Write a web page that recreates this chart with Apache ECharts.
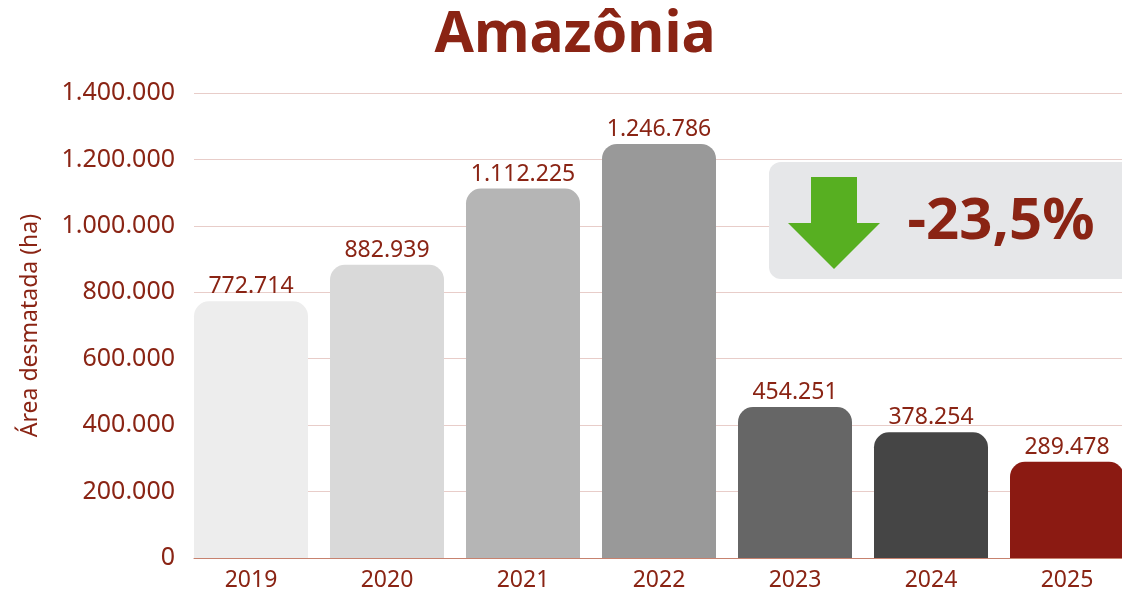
<!DOCTYPE html>
<html>
<head>
<meta charset="utf-8">
<script src="https://cdn.jsdelivr.net/npm/echarts@6/dist/echarts.min.js"></script>
<style>
  html, body { margin: 0; padding: 0; background: #fff; }
  #chart { width: 1122px; height: 595px; }
</style>
</head>
<body>
<div id="chart"></div>
<script>
// Desmatamento na Amazônia por ano
const years = ['2019', '2020', '2021', '2022', '2023', '2024', '2025'];
const areaHa = [772714, 882939, 1112225, 1246786, 454251, 378254, 289478];
const barColors = ['#EDEDED', '#D9D9D9', '#B5B5B5', '#999999', '#666666', '#454545', '#8B1A12'];
const yMax = 1400000;
const yStep = 200000;
const variation = '-23,5%';

const red = '#8A2414';
const font = '"Noto Sans", sans-serif';
const fmt = v => String(v).replace(/\B(?=(\d{3})+(?!\d))/g, '.');

const chart = echarts.init(document.getElementById('chart'));
const option = {
  animation: false,
  title: {
    text: 'Amazônia',
    left: 570,
    textAlign: 'center',
    top: 2,
    textStyle: { color: red, fontSize: 57, fontWeight: 'bold', fontFamily: font }
  },
  grid: [
    // barras
    { left: 183, top: 93, width: 952, bottom: 37, outerBoundsMode: 'none' },
    // linhas de grade e rótulos
    { left: 194, top: 93, right: 0, bottom: 37, outerBoundsMode: 'none' }
  ],
  xAxis: [
    {
      type: 'category', gridIndex: 0, data: years,
      axisTick: { show: false },
      axisLine: { show: false },
      axisLabel: { color: red, fontSize: 23, fontFamily: font, margin: 11 }
    },
    {
      type: 'category', gridIndex: 1, data: years, show: true,
      axisTick: { show: false }, axisLabel: { show: false },
      axisLine: { show: true, lineStyle: { color: '#C7826F', width: 1 } }
    }
  ],
  yAxis: [
    {
      type: 'value', gridIndex: 0, min: 0, max: yMax, interval: yStep,
      show: false
    },
    {
      type: 'value', gridIndex: 1, min: 0, max: yMax, interval: yStep,
      name: 'Área desmatada (ha)',
      nameLocation: 'middle',
      nameGap: 152,
      nameTextStyle: { color: red, fontSize: 23, fontFamily: font },
      axisLine: { show: false },
      axisTick: { show: false },
      axisLabel: { color: red, fontSize: 25, fontFamily: font, margin: 19, formatter: fmt },
      splitLine: { lineStyle: { color: '#E8CDC9', width: 1 } }
    }
  ],
  graphic: [
    {
      type: 'rect', z: 100,
      shape: { x: 769, y: 162, width: 370, height: 117, r: 12 },
      style: { fill: '#E6E7E9' }
    },
    {
      type: 'polygon', z: 101,
      shape: { points: [[811, 177], [857, 177], [857, 223], [880, 223], [834, 269], [788, 223], [811, 223]] },
      style: { fill: '#57AF21' }
    },
    {
      type: 'text', z: 101,
      x: 1001, y: 222,
      style: {
        text: variation, fill: red, font: 'bold 58px ' + font,
        align: 'center', verticalAlign: 'middle'
      }
    }
  ],
  series: [
    {
      type: 'bar',
      xAxisIndex: 0, yAxisIndex: 0,
      barWidth: 114,
      data: areaHa.map((v, i) => ({
        value: v,
        itemStyle: { color: barColors[i], borderRadius: [15, 15, 0, 0] }
      })),
      label: {
        show: true, position: 'top', distance: 3,
        color: red, fontSize: 23, fontFamily: font,
        formatter: p => fmt(p.value)
      }
    }
  ]
};
option && chart.setOption(option);
</script>
</body>
</html>
